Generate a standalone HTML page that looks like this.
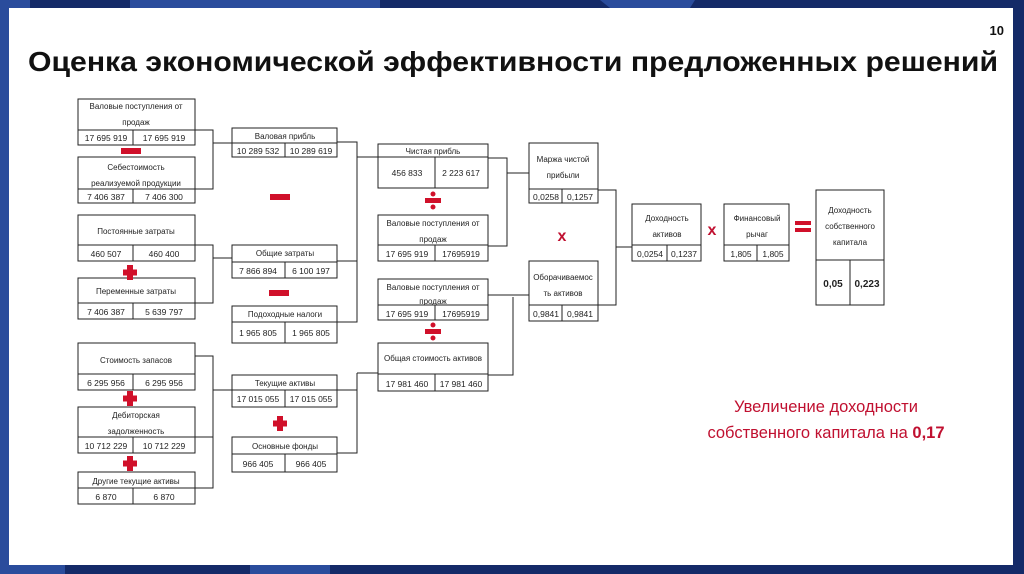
<!DOCTYPE html>
<html><head><meta charset="utf-8"><style>
html,body{margin:0;padding:0;width:1024px;height:574px;overflow:hidden;background:#14296a}
svg{display:block}
text{font-family:"Liberation Sans",sans-serif}
.t{font-size:8px;fill:#222;text-anchor:middle}
.v{font-size:8.5px;fill:#222;text-anchor:middle}
</style></head><body>
<svg width="1024" height="574" viewBox="0 0 1024 574">
<rect x="0" y="0" width="1024" height="574" fill="#142a68"/>
<rect x="0" y="0" width="30" height="574" fill="#2a4c9c"/>
<rect x="130" y="0" width="250" height="8" fill="#2a4c9c"/>
<polygon points="600,0 695,0 690,8 610,8" fill="#2a4c9c"/>
<rect x="0" y="565" width="65" height="9" fill="#2a4c9c"/>
<rect x="250" y="565" width="80" height="9" fill="#2a4c9c"/>
<rect x="9" y="8" width="1004" height="557" fill="#fff"/>
<text x="1004" y="35" font-size="13" font-weight="bold" text-anchor="end" fill="#111">10</text>
<text x="28" y="71" font-size="28" font-weight="bold" fill="#111" textLength="970" lengthAdjust="spacingAndGlyphs">Оценка экономической эффективности предложенных решений</text>

<g fill="none" stroke="#222" stroke-width="1">
<!-- column 1 -->
<rect x="78" y="99" width="117" height="46"/><line x1="78" y1="130" x2="195" y2="130"/><line x1="133" y1="130" x2="133" y2="145"/>
<rect x="78" y="157" width="117" height="46"/><line x1="78" y1="189" x2="195" y2="189"/><line x1="133" y1="189" x2="133" y2="203"/>
<rect x="78" y="215" width="117" height="46"/><line x1="78" y1="245" x2="195" y2="245"/><line x1="133" y1="245" x2="133" y2="261"/>
<rect x="78" y="278" width="117" height="41"/><line x1="78" y1="303" x2="195" y2="303"/><line x1="133" y1="303" x2="133" y2="319"/>
<rect x="78" y="343" width="117" height="47"/><line x1="78" y1="374" x2="195" y2="374"/><line x1="133" y1="374" x2="133" y2="390"/>
<rect x="78" y="407" width="117" height="46"/><line x1="78" y1="437" x2="195" y2="437"/><line x1="133" y1="437" x2="133" y2="453"/>
<rect x="78" y="472" width="117" height="32"/><line x1="78" y1="488" x2="195" y2="488"/><line x1="133" y1="488" x2="133" y2="504"/>
<!-- column 2 -->
<rect x="232" y="128" width="105" height="29"/><line x1="232" y1="143" x2="337" y2="143"/><line x1="285" y1="143" x2="285" y2="157"/>
<rect x="232" y="245" width="105" height="33"/><line x1="232" y1="262" x2="337" y2="262"/><line x1="285" y1="262" x2="285" y2="278"/>
<rect x="232" y="306" width="105" height="37"/><line x1="232" y1="322" x2="337" y2="322"/><line x1="285" y1="322" x2="285" y2="343"/>
<rect x="232" y="375" width="105" height="32"/><line x1="232" y1="390" x2="337" y2="390"/><line x1="285" y1="390" x2="285" y2="407"/>
<rect x="232" y="437" width="105" height="35"/><line x1="232" y1="454" x2="337" y2="454"/><line x1="285" y1="454" x2="285" y2="472"/>
<!-- column 3 -->
<rect x="378" y="144" width="110" height="44"/><line x1="378" y1="157" x2="488" y2="157"/><line x1="435" y1="157" x2="435" y2="188"/>
<rect x="378" y="215" width="110" height="46"/><line x1="378" y1="245" x2="488" y2="245"/><line x1="435" y1="245" x2="435" y2="261"/>
<rect x="378" y="279" width="110" height="41"/><line x1="378" y1="305" x2="488" y2="305"/><line x1="435" y1="305" x2="435" y2="320"/>
<rect x="378" y="343" width="110" height="48"/><line x1="378" y1="374" x2="488" y2="374"/><line x1="435" y1="374" x2="435" y2="391"/>
<!-- column 4 -->
<rect x="529" y="143" width="69" height="60"/><line x1="529" y1="189" x2="598" y2="189"/><line x1="562" y1="189" x2="562" y2="203"/>
<rect x="529" y="261" width="69" height="60"/><line x1="529" y1="305" x2="598" y2="305"/><line x1="562" y1="305" x2="562" y2="321"/>
<!-- column 5 -->
<rect x="632" y="204" width="69" height="57"/><line x1="632" y1="245" x2="701" y2="245"/><line x1="667" y1="245" x2="667" y2="261"/>
<rect x="724" y="204" width="65" height="57"/><line x1="724" y1="245" x2="789" y2="245"/><line x1="757" y1="245" x2="757" y2="261"/>
<rect x="816" y="190" width="68" height="115"/><line x1="816" y1="260" x2="884" y2="260"/><line x1="850" y1="260" x2="850" y2="305"/>

<!-- connectors -->
<polyline points="195,130 213,130 213,189 195,189"/><line x1="213" y1="143" x2="232" y2="143"/>
<polyline points="195,245 213,245 213,303 195,303"/><line x1="213" y1="258" x2="232" y2="258"/>
<polyline points="195,356 213,356 213,488 195,488"/><line x1="213" y1="437" x2="195" y2="437"/><line x1="213" y1="390" x2="232" y2="390"/>
<polyline points="337,142 357,142 357,322 337,322"/><line x1="337" y1="261" x2="357" y2="261"/><line x1="357" y1="157" x2="378" y2="157"/>
<polyline points="337,390 357,390"/><polyline points="357,373 357,453 337,453"/><line x1="357" y1="373" x2="378" y2="373"/>
<polyline points="488,158 507,158 507,246 488,246"/><line x1="507" y1="173" x2="529" y2="173"/>
<line x1="488" y1="295" x2="529" y2="295"/><polyline points="513,297 513,375 488,375"/>
<polyline points="598,190 616,190 616,305 598,305"/><line x1="616" y1="247" x2="632" y2="247"/>
</g>

<!-- signs -->
<g fill="#d0102a">
<rect x="121" y="148" width="20" height="6"/>
<rect x="270" y="194" width="20" height="6"/>
<rect x="269" y="290" width="20" height="6"/>
<rect x="127" y="265" width="6" height="15"/><rect x="123" y="269.5" width="14" height="6"/>
<rect x="127" y="391" width="6" height="15"/><rect x="123" y="395.5" width="14" height="6"/>
<rect x="127" y="456" width="6" height="15"/><rect x="123" y="460.5" width="14" height="6"/>
<rect x="277" y="416" width="6" height="15"/><rect x="273" y="420.5" width="14" height="6"/>
<rect x="425" y="198" width="16" height="5"/><circle cx="433" cy="194" r="2.5"/><circle cx="433" cy="207" r="2.5"/>
<rect x="425" y="329" width="16" height="5"/><circle cx="433" cy="325" r="2.5"/><circle cx="433" cy="338" r="2.5"/>
<rect x="795" y="221" width="16" height="4"/><rect x="795" y="228" width="16" height="4"/>
</g>
<g font-size="16" font-weight="bold" fill="#c01030" text-anchor="middle">
<text x="562" y="241">x</text><text x="712" y="235">x</text>
</g>

<!-- labels column 1 -->
<text class="t" x="136" y="109">Валовые поступления от</text><text class="t" x="136" y="125">продаж</text>
<text class="v" x="106" y="141">17 695 919</text><text class="v" x="164" y="141">17 695 919</text>
<text class="t" x="136" y="170">Себестоимость</text><text class="t" x="136" y="186">реализуемой продукции</text>
<text class="v" x="106" y="200">7 406 387</text><text class="v" x="164" y="200">7 406 300</text>
<text class="t" x="136" y="234">Постоянные затраты</text>
<text class="v" x="106" y="257">460 507</text><text class="v" x="164" y="257">460 400</text>
<text class="t" x="136" y="294">Переменные затраты</text>
<text class="v" x="106" y="315">7 406 387</text><text class="v" x="164" y="315">5 639 797</text>
<text class="t" x="136" y="363">Стоимость запасов</text>
<text class="v" x="106" y="386">6 295 956</text><text class="v" x="164" y="386">6 295 956</text>
<text class="t" x="136" y="418">Дебиторская</text><text class="t" x="136" y="434">задолженность</text>
<text class="v" x="106" y="449">10 712 229</text><text class="v" x="164" y="449">10 712 229</text>
<text class="t" x="136" y="484">Другие текущие активы</text>
<text class="v" x="106" y="500">6 870</text><text class="v" x="164" y="500">6 870</text>
<!-- column 2 -->
<text class="t" x="285" y="139">Валовая прибль</text>
<text class="v" x="258" y="154">10 289 532</text><text class="v" x="311" y="154">10 289 619</text>
<text class="t" x="285" y="256">Общие затраты</text>
<text class="v" x="258" y="274">7 866 894</text><text class="v" x="311" y="274">6 100 197</text>
<text class="t" x="285" y="317">Подоходные налоги</text>
<text class="v" x="258" y="336">1 965 805</text><text class="v" x="311" y="336">1 965 805</text>
<text class="t" x="285" y="386">Текущие активы</text>
<text class="v" x="258" y="402">17 015 055</text><text class="v" x="311" y="402">17 015 055</text>
<text class="t" x="285" y="449">Основные фонды</text>
<text class="v" x="258" y="467">966 405</text><text class="v" x="311" y="467">966 405</text>
<!-- column 3 -->
<text class="t" x="433" y="154">Чистая прибль</text>
<text class="v" x="407" y="176">456 833</text><text class="v" x="461" y="176">2 223 617</text>
<text class="t" x="433" y="226">Валовые поступления от</text><text class="t" x="433" y="242">продаж</text>
<text class="v" x="407" y="257">17 695 919</text><text class="v" x="461" y="257">17695919</text>
<text class="t" x="433" y="290">Валовые поступления от</text><text class="t" x="433" y="304">продаж</text>
<text class="v" x="407" y="317">17 695 919</text><text class="v" x="461" y="317">17695919</text>
<text class="t" x="433" y="361">Общая стоимость активов</text>
<text class="v" x="407" y="387">17 981 460</text><text class="v" x="461" y="387">17 981 460</text>
<!-- column 4 -->
<text class="t" x="563" y="162">Маржа чистой</text><text class="t" x="563" y="178">прибыли</text>
<text class="v" x="546" y="200">0,0258</text><text class="v" x="580" y="200">0,1257</text>
<text class="t" x="563" y="280">Оборачиваемос</text><text class="t" x="563" y="296">ть активов</text>
<text class="v" x="546" y="317">0,9841</text><text class="v" x="580" y="317">0,9841</text>
<!-- column 5 -->
<text class="t" x="667" y="221">Доходность</text><text class="t" x="667" y="237">активов</text>
<text class="v" x="650" y="257">0,0254</text><text class="v" x="684" y="257">0,1237</text>
<text class="t" x="757" y="221">Финансовый</text><text class="t" x="757" y="237">рычаг</text>
<text class="v" x="741" y="257">1,805</text><text class="v" x="773" y="257">1,805</text>
<text class="t" x="850" y="213">Доходность</text><text class="t" x="850" y="229">собственного</text><text class="t" x="850" y="245">капитала</text>
<text x="833" y="287" font-size="10" font-weight="bold" fill="#222" text-anchor="middle">0,05</text>
<text x="867" y="287" font-size="10" font-weight="bold" fill="#222" text-anchor="middle">0,223</text>

<text x="826" y="412" font-size="16.5" fill="#c01030" text-anchor="middle">Увеличение доходности</text>
<text x="826" y="438" font-size="16.5" fill="#c01030" text-anchor="middle">собственного капитала на <tspan font-weight="bold">0,17</tspan></text>
</svg>
</body></html>
